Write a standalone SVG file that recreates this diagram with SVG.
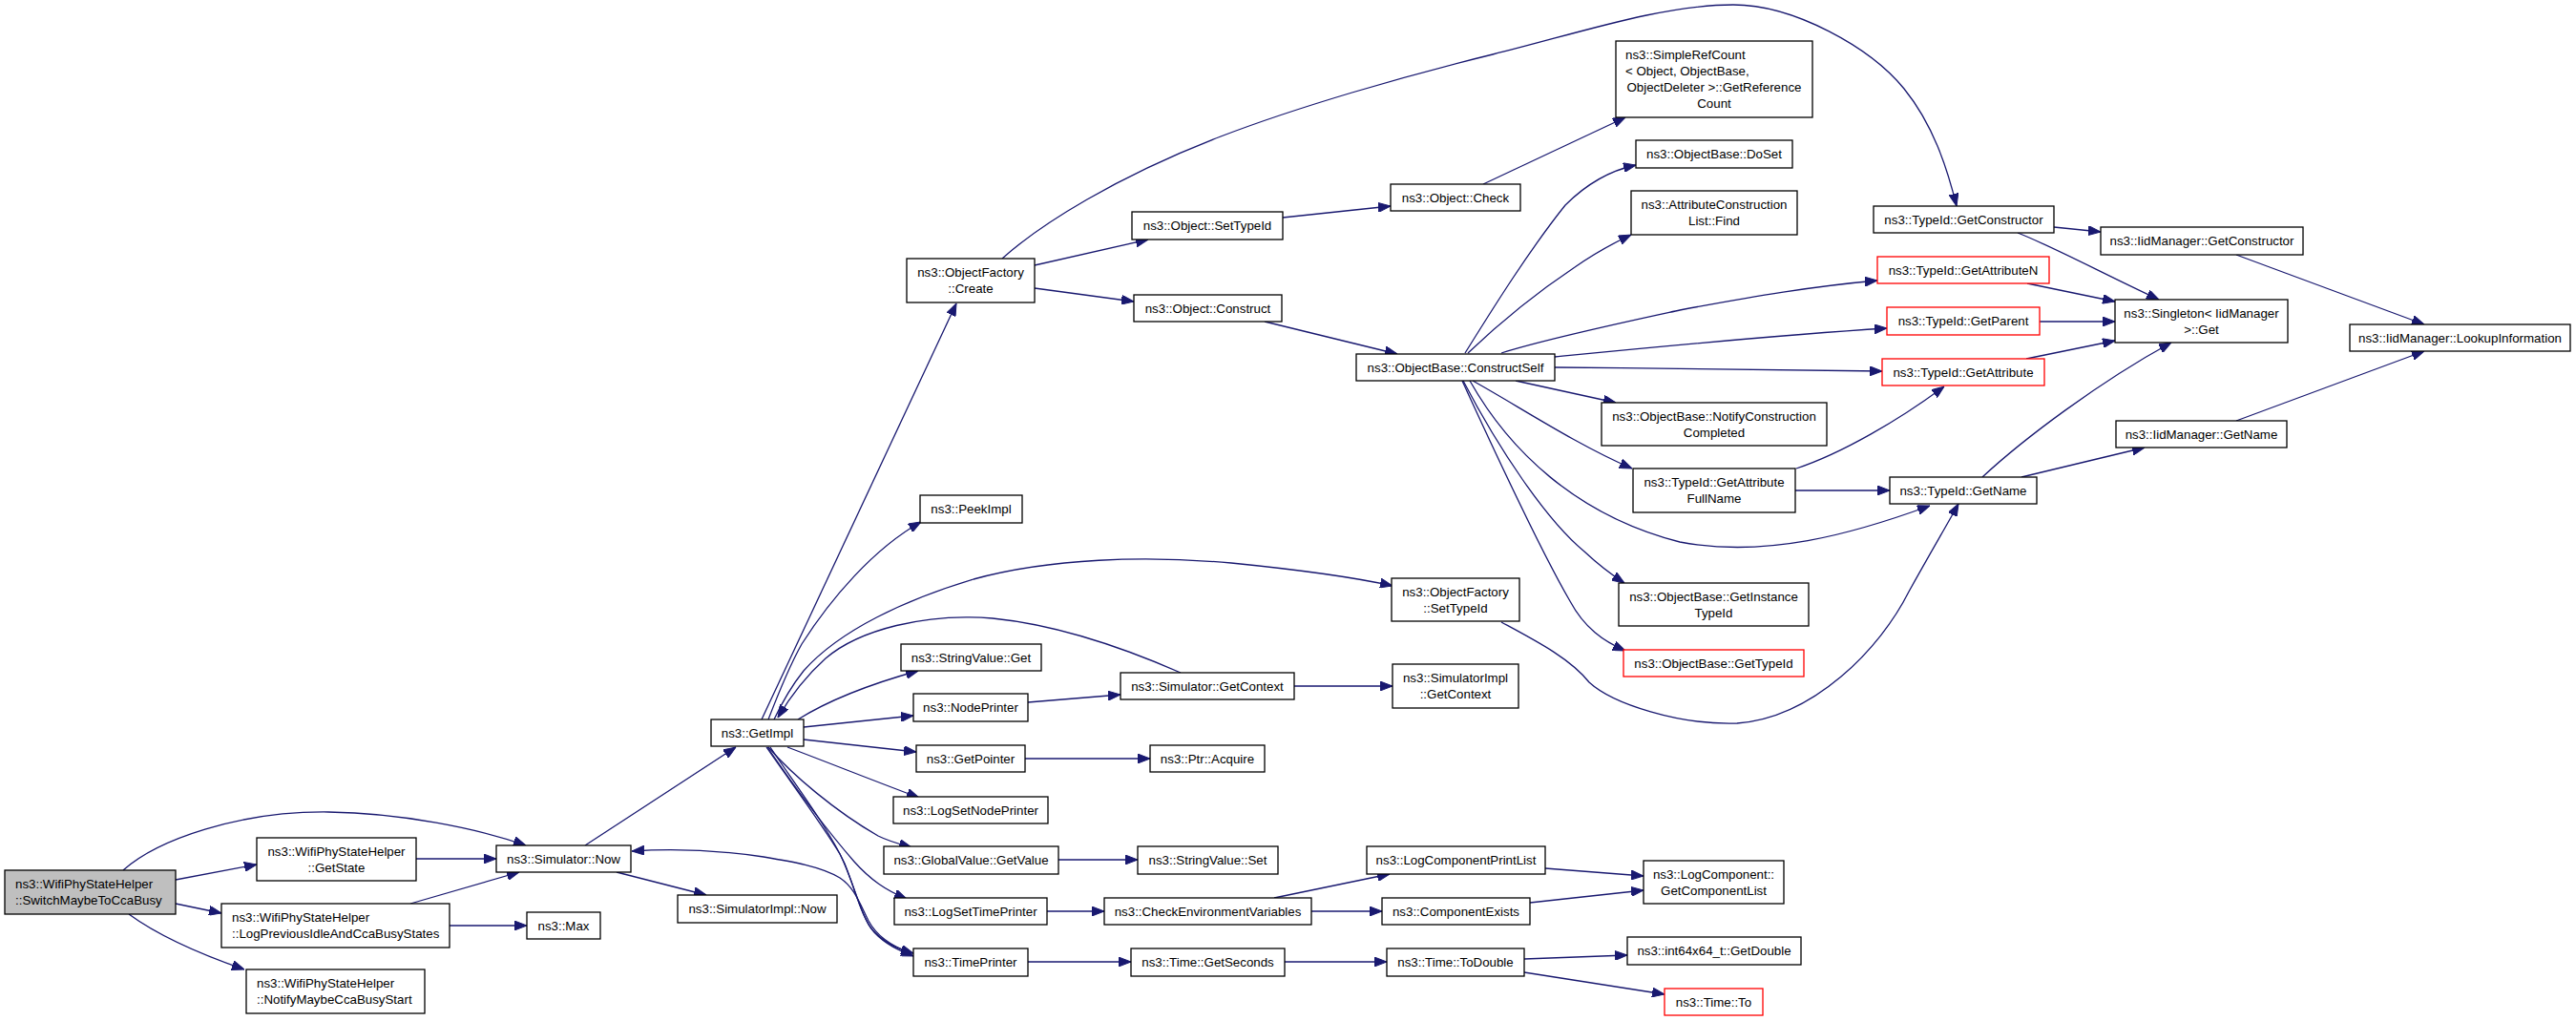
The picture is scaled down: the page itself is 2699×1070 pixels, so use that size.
<svg xmlns="http://www.w3.org/2000/svg" width="2699" height="1070" viewBox="0 0 2699 1070">
<defs>
<style>
.n rect{fill:#fff;stroke:#000;stroke-width:1.3}
.red rect{stroke:#ff0000}
.root rect{fill:#bfbfbf}
text{font-family:"Liberation Sans",Arial,sans-serif;font-size:13.3px;fill:#000;text-anchor:middle}
text.l{text-anchor:start}
.e path{fill:none;stroke:#191970;stroke-width:1.3;marker-end:url(#ah)}
</style>
<marker id="ah" markerWidth="13" markerHeight="10" refX="13" refY="5" orient="auto" markerUnits="userSpaceOnUse">
<path d="M0,0 L13,5 L0,10 z" fill="#191970" stroke="#191970" stroke-width="1"/>
</marker>
</defs>
<rect x="0" y="0" width="2699" height="1070" fill="#fff"/>
<g id="connectors" class="e">
<path d="M129,912 C165,880 250,850 344,851 C420,852 500,868 551,886"/>
<path d="M184,922 L269,906"/>
<path d="M184,947 L232,957"/>
<path d="M135,958 C165,980 210,1000 256,1016"/>
<path d="M436,900 L520,900"/>
<path d="M430,947 L544,914"/>
<path d="M471,970 L552,970"/>
<path d="M613,886 L771,783"/>
<path d="M646,914 L740,938"/>
<path d="M955,999 C935,992 918,980 910,965 C900,945 895,930 880,920 C860,908 830,903 800,898 C760,892 710,889 662,892"/>
<path d="M803,783 C830,822 860,862 880,895 C895,925 900,955 912,972 C925,988 940,994 957,999"/>
<path d="M807,783 C835,825 868,868 885,905 C897,935 903,962 916,977 C928,990 942,996 957,1002"/>
<path d="M825,783 C870,800 920,820 963,836"/>
<path d="M805,783 C830,812 875,850 920,876 C932,882 944,885 955,888"/>
<path d="M804,783 C835,828 868,872 895,903 C912,922 928,933 950,942"/>
<path d="M842,775 L960,788"/>
<path d="M842,762 L957,750"/>
<path d="M836,754 C868,734 915,716 962,703"/>
<path d="M805,754 C815,728 826,700 840,675 C870,628 915,575 965,547"/>
<path d="M798,754 L1002,318"/>
<path d="M811,754 C820,735 830,718 842,703 C880,660 950,628 1020,607 C1100,585 1200,582 1290,590 C1360,597 1415,604 1459,614"/>
<path d="M1237,705 C1180,680 1110,655 1040,648 C970,642 900,660 865,690 C845,708 828,730 815,752"/>
<path d="M1084,278 L1203,251"/>
<path d="M1084,302 L1188,316"/>
<path d="M1050,271 C1090,235 1170,185 1279,143 C1360,112 1470,80 1564,57 C1650,36 1740,5 1816,5 C1880,5 1960,50 1995,93 C2025,130 2040,175 2050,216"/>
<path d="M1344,228 L1457,216"/>
<path d="M1554,193 L1703,123"/>
<path d="M1325,337 L1464,371"/>
<path d="M1535,370 C1560,330 1600,265 1640,215 C1665,190 1690,178 1714,173"/>
<path d="M1538,370 C1580,330 1620,300 1650,280 C1670,266 1690,255 1709,246"/>
<path d="M1573,370 C1620,355 1700,338 1760,325 C1840,310 1900,300 1967,294"/>
<path d="M1629,374 C1720,365 1850,352 1977,344"/>
<path d="M1629,385 C1750,386 1880,388 1972,389"/>
<path d="M1588,399 L1693,422"/>
<path d="M1543,399 C1590,425 1650,465 1710,491"/>
<path d="M1540,399 C1580,470 1650,540 1760,568 C1850,585 1940,560 2022,530"/>
<path d="M1533,399 C1570,470 1620,545 1660,578 C1675,592 1688,602 1702,611"/>
<path d="M1532,399 C1560,460 1610,570 1645,630 C1660,658 1680,672 1703,682"/>
<path d="M1882,491 C1930,475 1990,440 2037,405"/>
<path d="M1881,514 L1980,514"/>
<path d="M2152,238 L2201,243"/>
<path d="M2114,244 C2150,258 2200,285 2262,314"/>
<path d="M2124,297 L2216,316"/>
<path d="M2137,337 L2216,337"/>
<path d="M2123,376 L2216,357"/>
<path d="M2077,500 C2120,460 2200,400 2275,359"/>
<path d="M2118,500 L2247,469"/>
<path d="M2343,267 L2540,340"/>
<path d="M2343,441 L2540,368"/>
<path d="M1573,652 C1610,672 1645,690 1665,715 C1690,738 1760,760 1820,758 C1900,752 1970,680 2000,620 C2025,575 2040,550 2052,528"/>
<path d="M1109,901 L1192,901"/>
<path d="M1074,795 L1205,795"/>
<path d="M1077,736 L1174,728"/>
<path d="M1356,719 L1459,719"/>
<path d="M1097,955 L1157,955"/>
<path d="M1335,941 L1456,916"/>
<path d="M1374,955 L1448,955"/>
<path d="M1619,910 L1722,918"/>
<path d="M1603,946 L1722,933"/>
<path d="M1077,1008 L1185,1008"/>
<path d="M1346,1008 L1453,1008"/>
<path d="M1597,1005 L1705,1001"/>
<path d="M1597,1019 L1744,1042"/>
</g>
<g id="n1" class="n root"><rect x="5" y="912" width="179" height="46"/><text class="l" x="16" y="931">ns3::WifiPhyStateHelper</text><text class="l" x="16" y="948">::SwitchMaybeToCcaBusy</text></g>
<g id="n2" class="n"><rect x="269" y="878" width="167" height="45"/><text x="352.5" y="896.5">ns3::WifiPhyStateHelper</text><text x="352.5" y="913.5">::GetState</text></g>
<g id="n3" class="n"><rect x="520" y="886" width="141" height="28"/><text x="590.5" y="904.5">ns3::Simulator::Now</text></g>
<g id="n4" class="n"><rect x="232" y="947" width="239" height="46"/><text class="l" x="243" y="966">ns3::WifiPhyStateHelper</text><text class="l" x="243" y="983">::LogPreviousIdleAndCcaBusyStates</text></g>
<g id="n5" class="n"><rect x="552" y="956" width="77" height="28"/><text x="590.5" y="974.5">ns3::Max</text></g>
<g id="n6" class="n"><rect x="258" y="1016" width="187" height="46"/><text class="l" x="269" y="1035">ns3::WifiPhyStateHelper</text><text class="l" x="269" y="1052">::NotifyMaybeCcaBusyStart</text></g>
<g id="n7" class="n"><rect x="710" y="938" width="167" height="29"/><text x="793.5" y="957">ns3::SimulatorImpl::Now</text></g>
<g id="n8" class="n"><rect x="745" y="754" width="97" height="28"/><text x="793.5" y="772.5">ns3::GetImpl</text></g>
<g id="n9" class="n"><rect x="950" y="271" width="134" height="46"/><text x="1017" y="290">ns3::ObjectFactory</text><text x="1017" y="307">::Create</text></g>
<g id="n10" class="n"><rect x="1186" y="222" width="158" height="29"/><text x="1265" y="241">ns3::Object::SetTypeId</text></g>
<g id="n11" class="n"><rect x="1188" y="309" width="155" height="28"/><text x="1265.5" y="327.5">ns3::Object::Construct</text></g>
<g id="n12" class="n"><rect x="1457" y="193" width="136" height="28"/><text x="1525" y="211.5">ns3::Object::Check</text></g>
<g id="n13" class="n"><rect x="1693" y="43" width="206" height="80"/><text class="l" x="1703" y="62">ns3::SimpleRefCount</text><text class="l" x="1703" y="79">&lt; Object, ObjectBase,</text><text x="1796" y="96">ObjectDeleter &gt;::GetReference</text><text x="1796" y="113">Count</text></g>
<g id="n14" class="n"><rect x="1714" y="147" width="164" height="29"/><text x="1796" y="166">ns3::ObjectBase::DoSet</text></g>
<g id="n15" class="n"><rect x="1709" y="200" width="174" height="46"/><text x="1796" y="219">ns3::AttributeConstruction</text><text x="1796" y="236">List::Find</text></g>
<g id="n16" class="n"><rect x="1421" y="371" width="208" height="28"/><text x="1525" y="389.5">ns3::ObjectBase::ConstructSelf</text></g>
<g id="n17" class="n"><rect x="1678" y="422" width="236" height="45"/><text x="1796" y="440.5">ns3::ObjectBase::NotifyConstruction</text><text x="1796" y="457.5">Completed</text></g>
<g id="n18" class="n"><rect x="1711" y="491" width="170" height="46"/><text x="1796" y="510">ns3::TypeId::GetAttribute</text><text x="1796" y="527">FullName</text></g>
<g id="n19" class="n"><rect x="1696" y="611" width="199" height="45"/><text x="1795.5" y="629.5">ns3::ObjectBase::GetInstance</text><text x="1795.5" y="646.5">TypeId</text></g>
<g id="n20" class="n red"><rect x="1701" y="681" width="189" height="28"/><text x="1795.5" y="699.5">ns3::ObjectBase::GetTypeId</text></g>
<g id="n21" class="n"><rect x="1458" y="606" width="134" height="45"/><text x="1525" y="624.5">ns3::ObjectFactory</text><text x="1525" y="641.5">::SetTypeId</text></g>
<g id="n22" class="n"><rect x="964" y="519" width="107" height="29"/><text x="1017.5" y="538">ns3::PeekImpl</text></g>
<g id="n23" class="n"><rect x="944" y="675" width="147" height="28"/><text x="1017.5" y="693.5">ns3::StringValue::Get</text></g>
<g id="n24" class="n"><rect x="1174" y="705" width="182" height="28"/><text x="1265" y="723.5">ns3::Simulator::GetContext</text></g>
<g id="n25" class="n"><rect x="957" y="727" width="120" height="29"/><text x="1017" y="746">ns3::NodePrinter</text></g>
<g id="n26" class="n"><rect x="1459" y="696" width="132" height="46"/><text x="1525" y="715">ns3::SimulatorImpl</text><text x="1525" y="732">::GetContext</text></g>
<g id="n27" class="n"><rect x="960" y="781" width="114" height="28"/><text x="1017" y="799.5">ns3::GetPointer</text></g>
<g id="n28" class="n"><rect x="1205" y="781" width="120" height="28"/><text x="1265" y="799.5">ns3::Ptr::Acquire</text></g>
<g id="n29" class="n"><rect x="936" y="835" width="162" height="28"/><text x="1017" y="853.5">ns3::LogSetNodePrinter</text></g>
<g id="n30" class="n"><rect x="926" y="887" width="183" height="29"/><text x="1017.5" y="906">ns3::GlobalValue::GetValue</text></g>
<g id="n31" class="n"><rect x="1192" y="887" width="147" height="29"/><text x="1265.5" y="906">ns3::StringValue::Set</text></g>
<g id="n32" class="n"><rect x="937" y="941" width="160" height="28"/><text x="1017" y="959.5">ns3::LogSetTimePrinter</text></g>
<g id="n33" class="n"><rect x="957" y="994" width="120" height="29"/><text x="1017" y="1013">ns3::TimePrinter</text></g>
<g id="n34" class="n"><rect x="1157" y="941" width="217" height="28"/><text x="1265.5" y="959.5">ns3::CheckEnvironmentVariables</text></g>
<g id="n35" class="n"><rect x="1432" y="887" width="187" height="29"/><text x="1525.5" y="906">ns3::LogComponentPrintList</text></g>
<g id="n36" class="n"><rect x="1448" y="941" width="155" height="28"/><text x="1525.5" y="959.5">ns3::ComponentExists</text></g>
<g id="n37" class="n"><rect x="1722" y="902" width="147" height="45"/><text x="1795.5" y="920.5">ns3::LogComponent::</text><text x="1795.5" y="937.5">GetComponentList</text></g>
<g id="n38" class="n"><rect x="1185" y="994" width="161" height="29"/><text x="1265.5" y="1013">ns3::Time::GetSeconds</text></g>
<g id="n39" class="n"><rect x="1453" y="994" width="144" height="29"/><text x="1525" y="1013">ns3::Time::ToDouble</text></g>
<g id="n40" class="n"><rect x="1705" y="982" width="182" height="29"/><text x="1796" y="1001">ns3::int64x64_t::GetDouble</text></g>
<g id="n41" class="n red"><rect x="1744" y="1036" width="103" height="28"/><text x="1795.5" y="1054.5">ns3::Time::To</text></g>
<g id="n42" class="n"><rect x="1963" y="216" width="189" height="28"/><text x="2057.5" y="234.5">ns3::TypeId::GetConstructor</text></g>
<g id="n43" class="n"><rect x="2201" y="238" width="212" height="29"/><text x="2307" y="257">ns3::IidManager::GetConstructor</text></g>
<g id="n44" class="n red"><rect x="1967" y="269" width="180" height="28"/><text x="2057" y="287.5">ns3::TypeId::GetAttributeN</text></g>
<g id="n45" class="n red"><rect x="1977" y="322" width="160" height="29"/><text x="2057" y="341">ns3::TypeId::GetParent</text></g>
<g id="n46" class="n red"><rect x="1972" y="376" width="170" height="28"/><text x="2057" y="394.5">ns3::TypeId::GetAttribute</text></g>
<g id="n47" class="n"><rect x="2216" y="314" width="181" height="45"/><text x="2306.5" y="332.5">ns3::Singleton&lt; IidManager</text><text x="2306.5" y="349.5">&gt;::Get</text></g>
<g id="n48" class="n"><rect x="2462" y="340" width="231" height="28"/><text x="2577.5" y="358.5">ns3::IidManager::LookupInformation</text></g>
<g id="n49" class="n"><rect x="2217" y="441" width="179" height="28"/><text x="2306.5" y="459.5">ns3::IidManager::GetName</text></g>
<g id="n50" class="n"><rect x="1980" y="500" width="154" height="28"/><text x="2057" y="518.5">ns3::TypeId::GetName</text></g>
</svg>
